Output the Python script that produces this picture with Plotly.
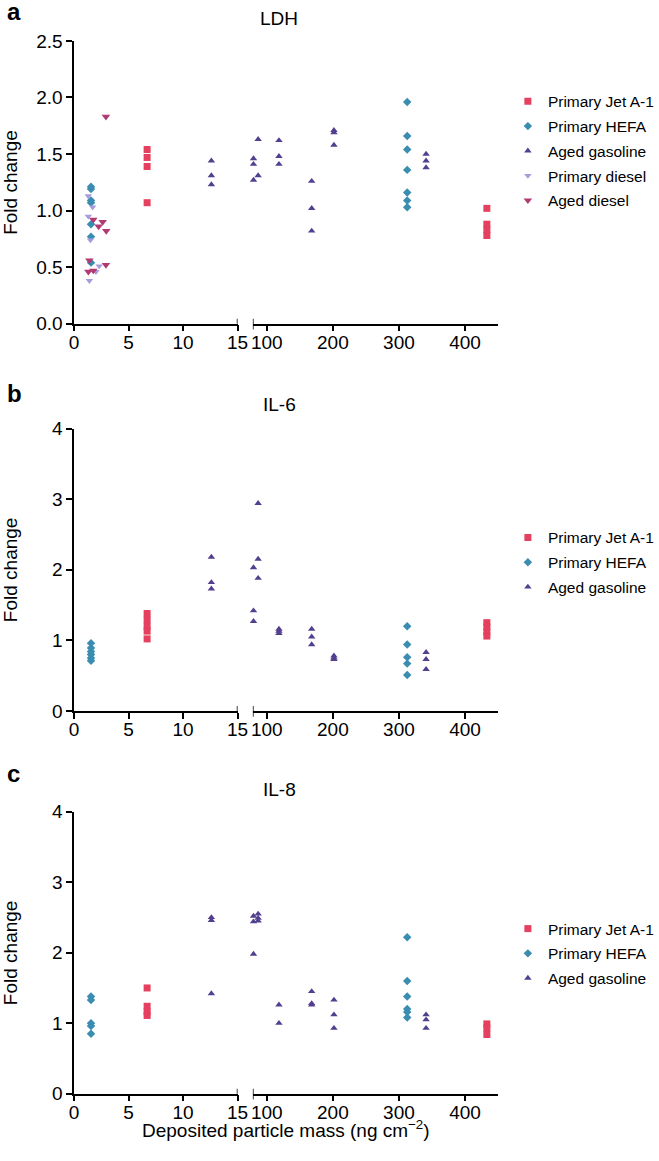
import plotly.graph_objects as go

W, H = 659, 1161
FONT = "Liberation Sans, Arial, sans-serif"

# ---------------- data ----------------
COLORS = {"Primary Jet A-1": "#E5405F", "Primary HEFA": "#3B8DB0",
          "Aged gasoline": "#523F8E", "Primary diesel": "#A89BDB", "Aged diesel": "#B23A72"}
SYMBOLS = {"Primary Jet A-1": "square", "Primary HEFA": "diamond",
           "Aged gasoline": "triangle-up", "Primary diesel": "triangle-down", "Aged diesel": "triangle-down"}
SIZES = {"Primary Jet A-1": 7, "Primary HEFA": 6.5, "Aged gasoline": 6.5,
         "Primary diesel": 6.5, "Aged diesel": 7.5}

# LDH
ldh_jet_x = [6.7, 6.7, 6.7, 6.7, 433, 433, 433, 433]
ldh_jet_y = [1.54, 1.47, 1.39, 1.07, 1.02, 0.88, 0.83, 0.78]
ldh_hefa_x = [1.55, 1.55, 1.55, 1.55, 1.55, 1.55, 1.55, 312.5, 312.5, 312.5, 312.5, 312.5, 312.5, 312.5]
ldh_hefa_y = [1.21, 1.19, 1.09, 1.07, 0.88, 0.77, 0.54, 1.96, 1.66, 1.54, 1.36, 1.16, 1.09, 1.03]
ldh_gas_x = [12.6, 12.6, 12.6, 80, 80, 80, 87, 87, 118.5, 118.5, 118.5, 168, 168, 168,
             201.7, 201.7, 201.7, 341, 341, 341]
ldh_gas_y = [1.44, 1.31, 1.23, 1.46, 1.41, 1.27, 1.63, 1.31, 1.62, 1.48, 1.41, 1.26, 1.02, 0.82,
             1.71, 1.69, 1.58, 1.50, 1.44, 1.38]
ldh_pdiesel_x = [1.3, 1.7, 1.3, 1.5, 2.3, 2.0, 1.4]
ldh_pdiesel_y = [1.13, 1.03, 0.95, 0.74, 0.51, 0.46, 0.38]
ldh_adiesel_x = [2.92, 1.76, 2.62, 2.25, 2.95, 1.4, 2.92, 1.31, 1.76]
ldh_adiesel_y = [1.83, 0.92, 0.90, 0.86, 0.82, 0.56, 0.52, 0.46, 0.47]

# IL-6
il6_jet_x = [6.7, 6.7, 6.7, 6.7, 6.7, 433, 433, 433, 433]
il6_jet_y = [1.38, 1.29, 1.20, 1.13, 1.02, 1.25, 1.19, 1.12, 1.06]
il6_hefa_x = [1.55, 1.55, 1.55, 1.55, 1.55, 1.55, 312.5, 312.5, 312.5, 312.5, 312.5]
il6_hefa_y = [0.96, 0.89, 0.84, 0.80, 0.75, 0.71, 1.20, 0.94, 0.76, 0.67, 0.51]
il6_gas_x = [12.6, 12.6, 12.6, 80, 80, 80, 87, 87, 87, 118.5, 118.5, 118.5, 168, 168, 168,
             201.7, 201.7, 201.7, 341, 341, 341]
il6_gas_y = [2.18, 1.82, 1.73, 2.03, 1.42, 1.27, 2.94, 2.15, 1.88, 1.16, 1.13, 1.10, 1.16, 1.05, 0.94,
             0.78, 0.75, 0.73, 0.83, 0.73, 0.59]

# IL-8
il8_jet_x = [6.7, 6.7, 6.7, 6.7, 433, 433, 433]
il8_jet_y = [1.50, 1.24, 1.16, 1.11, 0.99, 0.93, 0.84]
il8_hefa_x = [1.55, 1.55, 1.55, 1.55, 1.55, 312.5, 312.5, 312.5, 312.5, 312.5, 312.5]
il8_hefa_y = [1.38, 1.33, 1.00, 0.96, 0.85, 2.22, 1.60, 1.38, 1.20, 1.16, 1.08]
il8_gas_x = [12.6, 12.6, 12.6, 80, 80, 80, 87, 87, 87, 118.5, 118.5, 168, 168, 168,
             201.7, 201.7, 201.7, 341, 341, 341]
il8_gas_y = [2.50, 2.46, 1.42, 2.52, 2.44, 1.98, 2.55, 2.49, 2.45, 1.26, 1.00, 1.45, 1.28, 1.26,
             1.33, 1.12, 0.93, 1.12, 1.05, 0.93]

PANELS = [
    {"title": "LDH", "letter": "a", "yrange": [0, 2.5], "ytick": [0, 0.5, 1.0, 1.5, 2.0, 2.5], "yfmt": ".1f",
     "series": {"Primary Jet A-1": (ldh_jet_x, ldh_jet_y), "Primary HEFA": (ldh_hefa_x, ldh_hefa_y),
                "Aged gasoline": (ldh_gas_x, ldh_gas_y), "Primary diesel": (ldh_pdiesel_x, ldh_pdiesel_y),
                "Aged diesel": (ldh_adiesel_x, ldh_adiesel_y)}},
    {"title": "IL-6", "letter": "b", "yrange": [0, 4], "ytick": [0, 1, 2, 3, 4], "yfmt": "d",
     "series": {"Primary Jet A-1": (il6_jet_x, il6_jet_y), "Primary HEFA": (il6_hefa_x, il6_hefa_y),
                "Aged gasoline": (il6_gas_x, il6_gas_y)}},
    {"title": "IL-8", "letter": "c", "yrange": [0, 4], "ytick": [0, 1, 2, 3, 4], "yfmt": "d",
     "series": {"Primary Jet A-1": (il8_jet_x, il8_jet_y), "Primary HEFA": (il8_hefa_x, il8_hefa_y),
                "Aged gasoline": (il8_gas_x, il8_gas_y)}},
]

LEFT_RANGE = [0, 15]
RIGHT_RANGE = [79, 450]
LEFT_TICKS = [0, 5, 10, 15]
RIGHT_TICKS = [100, 200, 300, 400]

# ---------------- layout geometry (target picture pixels) ----------------
X_LEFT = (73, 237.3)
X_RIGHT = (252.7, 499.3)
Y_PIX = [(39.3, 322.7), (427.7, 710.7), (811.7, 1094.3)]   # (top, bottom)
TITLE_Y = [17, 404, 789]
LETTER_Y = [10, 393, 773]
LEGEND_ROW1 = [99, 536, 928]
LEGEND_LEFT_FIG = 517

# picture = S * figure + OFF (measured rendering offset/scale)
SX, OFFX = 0.978, 3.5
SY, OFFY = 0.984, 8.3


def fx(x):
    return (x - OFFX) / SX


def fy(y):
    return (y - OFFY) / SY


def px(x):
    return fx(x) / W


def py(y):
    return 1 - fy(y) / H


fig = go.Figure()
layout = {}
shapes = []
annotations = []

axis_common = dict(showline=True, linecolor="black", linewidth=1.5, ticks="outside",
                   ticklen=6, tickwidth=1.5, tickcolor="black", showgrid=False, zeroline=False,
                   tickfont=dict(family=FONT, size=19, color="black"))

for i, p in enumerate(PANELS):
    xl = f"x{2*i+1}" if i > 0 else "x"
    xr = f"x{2*i+2}"
    yy = f"y{i+1}" if i > 0 else "y"
    xl_key = "xaxis" if i == 0 else f"xaxis{2*i+1}"
    xr_key = f"xaxis{2*i+2}"
    y_key = "yaxis" if i == 0 else f"yaxis{i+1}"
    top, bot = Y_PIX[i]
    ydom = [py(bot), py(top)]

    layout[xl_key] = dict(axis_common, domain=[px(X_LEFT[0]), px(X_LEFT[1])], range=LEFT_RANGE,
                          tickvals=LEFT_TICKS, anchor=yy, ticklabelstandoff=-5)
    layout[xr_key] = dict(axis_common, domain=[px(X_RIGHT[0]), px(X_RIGHT[1])], range=RIGHT_RANGE,
                          tickvals=RIGHT_TICKS, anchor=yy, ticklabelstandoff=-5)
    layout[y_key] = dict(axis_common, domain=ydom, range=p["yrange"], tickvals=p["ytick"],
                         tickformat=p["yfmt"], anchor=xl)

    legend_key = "legend" if i == 0 else f"legend{i+1}"
    layout[legend_key] = dict(x=LEGEND_LEFT_FIG / W, xanchor="left",
                              y=1 - (fy(LEGEND_ROW1[i]) - 16) / H, yanchor="top",
                              font=dict(family=FONT, size=15.5, color="black"),
                              bgcolor="rgba(0,0,0,0)", tracegroupgap=1.6, itemwidth=30)

    for name, (xs, ys) in p["series"].items():
        lx = [a for a, b in zip(xs, ys) if a <= 15]
        ly = [b for a, b in zip(xs, ys) if a <= 15]
        rx = [a for a, b in zip(xs, ys) if a > 15]
        ry = [b for a, b in zip(xs, ys) if a > 15]
        mk = dict(color=COLORS[name], symbol=SYMBOLS[name], size=SIZES[name], line=dict(width=0))
        fig.add_trace(go.Scatter(x=lx, y=ly, mode="markers", marker=mk, name=name,
                                 xaxis=xl, yaxis=yy, legend=legend_key, legendgroup=f"{i}{name}",
                                 showlegend=True, cliponaxis=False, hoverinfo="skip"))
        if rx:
            fig.add_trace(go.Scatter(x=rx, y=ry, mode="markers", marker=mk, name=name,
                                     xaxis=xr, yaxis=yy, legend=legend_key, legendgroup=f"{i}{name}",
                                     showlegend=False, cliponaxis=False, hoverinfo="skip"))

    # axis-break ticks
    h = fy(bot) - fy(top)
    shapes.append(dict(type="line", xref=xl, yref=f"{yy} domain", x0=LEFT_RANGE[1], x1=LEFT_RANGE[1],
                       y0=0, y1=5 / h, line=dict(color="black", width=1.5)))
    shapes.append(dict(type="line", xref=xr, yref=f"{yy} domain", x0=RIGHT_RANGE[0], x1=RIGHT_RANGE[0],
                       y0=-6 / h, y1=5 / h, line=dict(color="black", width=1.5)))

    annotations.append(dict(text=p["title"], x=px(279), y=py(TITLE_Y[i]), xref="paper", yref="paper",
                            xanchor="center", yanchor="middle", showarrow=False,
                            font=dict(family=FONT, size=19, color="black")))
    annotations.append(dict(text=f"<b>{p['letter']}</b>", x=0, y=py(LETTER_Y[i]), xref="paper", yref="paper",
                            xanchor="left", yanchor="middle", showarrow=False,
                            font=dict(family=FONT, size=24, color="black")))
    annotations.append(dict(text="Fold change", x=px(9), y=py((top + bot) / 2), xref="paper", yref="paper",
                            xanchor="center", yanchor="middle", textangle=-90, showarrow=False,
                            font=dict(family=FONT, size=19, color="black")))

annotations.append(dict(text="Deposited particle mass (ng cm<sup>\u22122</sup>)", x=px(286), y=py(1130),
                        xref="paper", yref="paper", xanchor="center", yanchor="middle", showarrow=False,
                        font=dict(family=FONT, size=19, color="black")))

fig.update_layout(width=W, height=H, margin=dict(l=0, r=0, t=0, b=0), autosize=False,
                  plot_bgcolor="white", paper_bgcolor="white",
                  shapes=shapes, annotations=annotations, **layout)

fig.write_html("out.html", config={"displayModeBar": False},
               post_script="document.body.style.margin='0';document.body.style.overflow='hidden';")
